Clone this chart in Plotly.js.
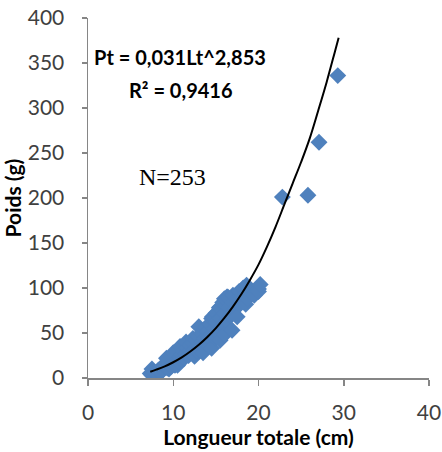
<!DOCTYPE html>
<html>
<head>
<meta charset="utf-8">
<script src="https://cdn.plot.ly/plotly-3.0.1.min.js"></script>
<style>html,body{margin:0;padding:0;background:#fff;}#chart{width:442px;height:452px;}</style>
</head>
<body>
<div id="chart"></div>
<script>
const lengthCm = [7.3,7.5,7.5,7.8,8.2,8.5,8.5,8.8,9.0,9.2,9.3,9.5,9.5,9.8,10.0,10.0,10.2,10.4,10.5,10.6,10.8,10.8,11.0,11.0,11.2,11.3,11.5,11.5,11.6,11.8,12.0,12.0,12.2,12.3,12.4,12.5,12.5,12.7,12.8,13.0,13.0,13.1,13.3,13.4,13.5,13.5,13.7,13.8,13.9,14.0,14.1,14.3,14.5,14.5,14.5,14.6,14.8,15.0,15.0,15.0,15.2,15.4,15.5,15.5,15.5,15.7,15.8,16.0,16.0,16.0,16.2,16.3,16.4,16.5,16.7,16.9,17.0,17.0,17.2,17.5,17.5,17.7,17.8,17.8,18.0,18.2,18.5,18.5,18.6,18.7,19.0,19.5,19.5,20.0,20.0,20.2,22.8,25.8,27.1,29.3];
const weightG = [5,10,3,6,8,11,6,9,13,22,11,15,10,13,17,28,14,20,14,18,23,35,20,26,30,22,27,40,33,25,30,36,28,44,38,32,24,42,30,57,46,36,50,40,33,28,44,56,38,52,45,60,33,48,66,68,55,72,62,44,50,78,66,79,42,58,84,72,88,48,64,90,90,78,70,53,84,92,76,88,68,96,82,96,90,100,94,82,103,88,96,94,92,99,96,104,201,203,262,336];

// Fitted power trendline as drawn in the picture (x, y)
const fitX = [7.3,8,9,10,11,12,13,14,15,16,17,18,19,20,21,22,23,24,25,26,27,28,29,29.4];
const fitY = [7,9.3,12.9,17.5,22.9,29.4,36.9,45.6,55.5,66.7,79.3,93.3,109,126,146,168,192,216,240,266,297,329,364,378];

const xTicks = [0,10,20,30,40];
const yTicks = [0,50,100,150,200,250,300,350,400];

const tickFont = {family: 'Lato, "Noto Sans", sans-serif', size: 21, color: '#404040'};
const boldFont = {family: 'Lato, "Noto Sans", sans-serif', size: 20, color: '#000000', weight: 'bold'};
const axisTitleFont = {family: 'Lato, "Noto Sans", sans-serif', size: 21, color: '#000000', weight: 'bold'};

const data = [
  {
    x: lengthCm, y: weightG, type: 'scatter', mode: 'markers',
    marker: {symbol: 'diamond', size: 13, color: '#4F81BD', line: {width: 0}},
    hoverinfo: 'x+y', showlegend: false
  },
  {
    x: fitX, y: fitY, type: 'scatter', mode: 'lines',
    line: {color: '#000000', width: 2, shape: 'spline'},
    hoverinfo: 'skip', showlegend: false
  }
];

const layout = {
  width: 442, height: 452,
  margin: {l: 88, r: 13, t: 18, b: 74},
  paper_bgcolor: '#ffffff', plot_bgcolor: '#ffffff',
  showlegend: false,
  xaxis: {
    range: [0, 40], tickvals: xTicks, ticktext: xTicks.map(String),
    showgrid: false, zeroline: false,
    showline: true, linecolor: '#868686', linewidth: 1.5,
    ticks: 'outside', ticklen: 6, tickwidth: 1.5, tickcolor: '#868686',
    ticklabelstandoff: 9,
    tickfont: tickFont,
    title: {text: 'Longueur totale (cm)', font: axisTitleFont, standoff: 0}
  },
  yaxis: {
    range: [0, 400], tickvals: yTicks, ticktext: yTicks.map(String),
    showgrid: false, zeroline: false,
    showline: true, linecolor: '#868686', linewidth: 1.5,
    ticks: 'outside', ticklen: 5, tickwidth: 1.5, tickcolor: '#868686',
    ticklabelstandoff: 13,
    tickfont: tickFont,
    title: {text: 'Poids (g)', font: axisTitleFont, standoff: 2}
  },
  annotations: [
    {xref: 'paper', yref: 'paper', x: (180 - 88) / 341, y: (378 - 57) / 360,
     text: 'Pt = 0,031Lt^2,853', showarrow: false, font: boldFont, xanchor: 'center', yanchor: 'middle'},
    {xref: 'paper', yref: 'paper', x: (181 - 88) / 341, y: (378 - 90) / 360,
     text: 'R² = 0,9416', showarrow: false, font: boldFont, xanchor: 'center', yanchor: 'middle'},
    {xref: 'paper', yref: 'paper', x: (172 - 88) / 341, y: (378 - 177) / 360,
     text: 'N=253', showarrow: false,
     font: {family: '"Liberation Serif", "Times New Roman", serif', size: 24, color: '#000000'},
     xanchor: 'center', yanchor: 'middle'}
  ]
};

Plotly.newPlot('chart', data, layout, {displayModeBar: false, staticPlot: true});
</script>
</body>
</html>
